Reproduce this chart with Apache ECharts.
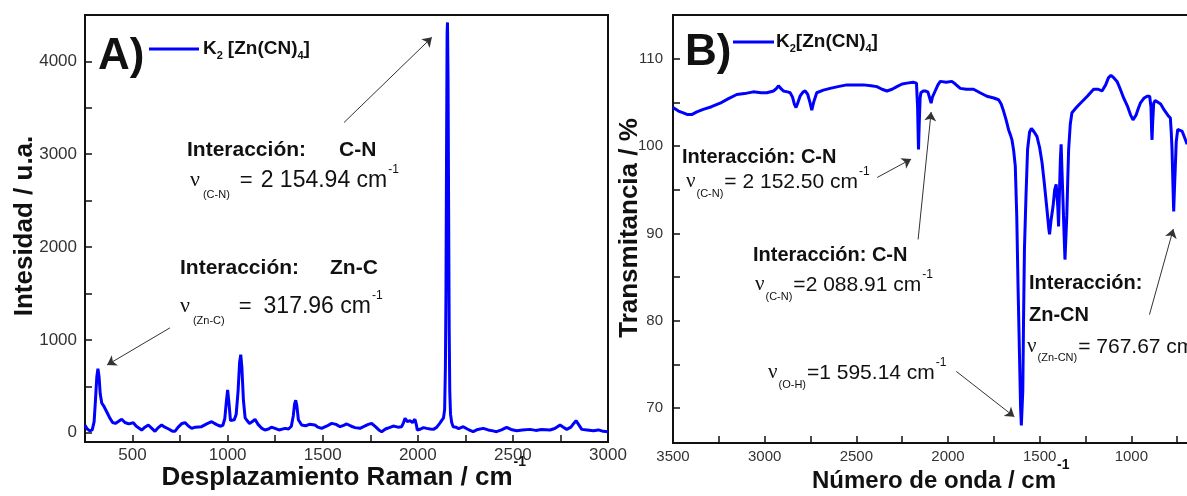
<!DOCTYPE html>
<html>
<head>
<meta charset="utf-8">
<script src="https://cdn.jsdelivr.net/npm/echarts@6/dist/echarts.min.js"></script>
<style>
html,body{margin:0;padding:0;background:#fff;}
#c{width:1187px;height:496px;}
</style>
</head>
<body>
<div id="c"></div>
<script>
// ---------- Raman spectrum (panel A) ----------
const ramanX = [250,262,275,288,298,305,312,318,324,330,338,348,358,368,380,395,410,425,443,460,480,504,520,548,565,583,600,618,635,653,670,690,710,723,740,760,776,795,811,830,863,890,916,940,960,975,985,993,1000,1007,1015,1025,1035,1045,1055,1063,1069,1075,1083,1092,1100,1115,1130,1144,1160,1178,1196,1215,1230,1249,1270,1302,1320,1335,1345,1352,1358,1364,1372,1389,1410,1430,1459,1475,1494,1520,1547,1570,1591,1610,1626,1650,1670,1696,1720,1740,1757,1780,1795,1810,1830,1850,1871,1895,1915,1925,1933,1945,1959,1972,1985,1993,1997,2015,2030,2047,2065,2082,2100,2115,2125,2135,2141,2145,2148,2151,2154,2156,2159,2162,2165,2168,2172,2178,2186,2200,2215,2239,2260,2275,2291,2315,2344,2370,2395,2414,2440,2467,2490,2520,2550,2590,2620,2650,2695,2720,2748,2765,2783,2805,2820,2832,2845,2862,2890,2923,2950,2975,3000];
const ramanY = [80,40,20,30,120,350,600,690,600,420,320,290,270,210,160,110,100,120,145,110,95,108,70,29,60,83,50,15,55,83,60,40,15,15,60,100,108,70,47,60,65,95,119,90,70,80,150,330,460,320,130,110,140,200,450,760,840,700,350,160,137,100,120,145,90,50,29,40,60,47,30,47,40,70,180,310,350,290,140,83,75,90,83,60,47,70,101,90,65,80,94,70,55,47,70,90,101,60,30,11,40,55,72,60,65,110,155,120,130,110,145,80,29,40,55,47,40,36,60,100,130,160,250,700,1500,3000,4300,4420,3800,2400,1100,450,200,110,65,60,45,65,40,25,11,35,47,30,20,11,30,58,35,22,30,36,25,35,29,45,83,60,36,60,100,130,90,36,30,22,30,15,11];
const ramanXLabels = [500,1000,1500,2000,2500,3000];
const ramanXTicks = [250,500,750,1000,1250,1500,1750,2000,2250,2500,2750,3000];
const ramanYLabels = [0,1000,2000,3000,4000];
const ramanYTicks = [0,500,1000,1500,2000,2500,3000,3500,4000];

// ---------- IR spectrum (panel B) ----------
const irX = [3500,3470,3444,3420,3398,3370,3335,3290,3243,3200,3152,3110,3062,3020,2988,2952,2935,2925,2912,2898,2875,2861,2848,2838,2829,2820,2807,2790,2779,2765,2752,2743,2733,2716,2680,2643,2600,2552,2500,2461,2420,2388,2360,2333,2305,2279,2250,2224,2190,2172,2166,2161,2157,2152,2148,2135,2124,2110,2100,2092,2085,2070,2055,2042,2010,1979,1960,1933,1900,1861,1825,1788,1750,1724,1710,1697,1683,1670,1660,1651,1642,1633,1625,1618,1610,1604,1600,1596,1592,1588,1583,1575,1566,1555,1545,1530,1515,1500,1487,1475,1460,1450,1446,1438,1427,1418,1410,1405,1401,1397,1393,1387,1383,1378,1373,1367,1362,1358,1352,1347,1342,1333,1324,1300,1278,1240,1206,1180,1160,1140,1125,1111,1095,1078,1060,1042,1020,1005,991,975,962,951,930,914,900,893,889,887,884,878,870,860,840,820,800,787,782,778,773,769,765,760,755,747,735,723,710,696];
const irY = [104.4,104.0,103.8,103.6,103.6,103.9,104.2,104.5,104.9,105.4,105.9,106.0,106.2,106.1,106.1,106.3,106.6,106.9,106.6,106.3,106.2,106.1,105.6,104.8,104.4,104.9,105.7,106.2,106.3,105.9,104.9,104.1,105.0,106.1,106.4,106.6,106.8,107.0,107.0,107.0,106.9,106.8,106.5,106.3,106.5,106.8,107.1,107.2,107.3,107.2,104.5,99.6,102.5,105.5,106.1,106.3,106.3,106.2,105.5,104.9,105.6,106.3,107.0,107.4,107.3,107.4,107.1,106.6,106.5,106.5,106.1,105.7,105.5,105.3,104.8,104.0,103.0,101.9,101.3,100.7,99.5,97.7,92,84,76,70,68.0,68.2,72,80,88.2,94,99.6,101.6,102.0,101.6,101.1,99.8,98.1,95.8,92.7,90.5,89.9,91.5,93.1,95.0,95.6,95.8,93,90.8,94,98.5,100.2,97,93.9,90,87,87.2,92,96,99.6,102.5,103.8,104.4,104.9,105.7,106.5,106.5,106.3,107.0,107.8,108.1,107.8,107.4,106.5,105.5,104.5,103.6,103.0,103.5,104.3,104.9,105.5,105.7,105.7,104.5,101.5,100.7,102.5,104.9,105.2,105.1,104.8,104.1,103.5,103.2,101.5,99.6,95.5,92.5,95,97.7,100.5,101.9,101.8,101.7,101.0,100.2];
const irXLabels = [3500,3000,2500,2000,1500,1000,500];
const irXTicks = [3500,3250,3000,2750,2500,2250,2000,1750,1500,1250,1000,750,500];
const irYLabels = [70,80,90,100,110];
const irYTicks = [70,75,80,85,90,95,100,105,110];

// annotation arrows (data coordinates: [from, to])
const ramanArrows = [[[1612,3342],[2074,4259]], [[697,1130],[366,730]]];
const irArrows = [[[2386,96.4],[2201,98.5]], [[2163,89.3],[2092,103.9]], [[1955,74.2],[1638,69.0]], [[901,80.7],[771,90.5]]];

const SANS = '"Liberation Sans", Arial, sans-serif';
const SERIF = '"Liberation Serif", "DejaVu Serif", serif';
const BLUE = '#0000ff';

const ctx = document.createElement('canvas').getContext('2d');
function tw(t, size, bold, fam) { ctx.font = (bold ? 'bold' : 'normal') + ' ' + size + 'px ' + fam; return ctx.measureText(t).width; }
function T(t, x, y, size, o) {
  o = o || {};
  return {type:'text', x:x, y:y, rotation:o.rot || 0, silent:true, z:100,
    style:{text:t, fontSize:size, fontWeight:o.bold ? 'bold' : 'normal', fontFamily:o.fam || SANS,
      fill:o.fill || '#111', align:o.align || 'left', verticalAlign:'middle'}};
}
// flowing text run: parts = [text, size, dy, gapBefore, opts]
function run(out, x, y, parts) {
  let cx = x;
  parts.forEach(p => {
    const o = p[4] || {};
    cx += p[3] || 0;
    out.push(T(p[0], cx, y + (p[2] || 0), p[1], o));
    cx += tw(p[0], p[1], o.bold, o.fam || SANS);
  });
  return cx;
}

const g = [];
// panel labels and legends
g.push(T('A)', 98, 57, 44, {bold:true}));
g.push({type:'line', silent:true, shape:{x1:149, y1:49, x2:199, y2:49}, style:{stroke:BLUE, lineWidth:3}});
run(g, 203, 49, [['K',19,0,0,{bold:true}],['2',11,7,0,{bold:true}],['[Zn(CN)',19,0,5,{bold:true}],['4',11,7,0,{bold:true}],[']',19,0,0,{bold:true}]]);

g.push(T('B)', 685, 53, 44, {bold:true}));
g.push({type:'line', silent:true, shape:{x1:733, y1:42, x2:774, y2:42}, style:{stroke:BLUE, lineWidth:3}});
run(g, 776, 42, [['K',19,0,0,{bold:true}],['2',11,7,0,{bold:true}],['[Zn(CN)',19,0,0,{bold:true}],['4',11,7,0,{bold:true}],[']',19,0,0,{bold:true}]]);

// panel A annotations
g.push(T('Interacción:', 187, 150, 21, {bold:true}));
g.push(T('C-N', 339, 150, 21, {bold:true}));
run(g, 190, 181, [['ν',22,-1,0,{fam:SERIF}],['(C-N)',11,14,3],['=',22,0,10],['2 154.94 cm',23,0,8],['-1',12,-11,1]]);

g.push(T('Interacción:', 180, 268, 21, {bold:true}));
g.push(T('Zn-C', 330, 268, 21, {bold:true}));
run(g, 180, 307, [['ν',22,-1,0,{fam:SERIF}],['(Zn-C)',11,14,3],['=',22,0,14],['317.96 cm',23,0,12],['-1',12,-11,1]]);

// panel B annotations
g.push(T('Interacción: C-N', 682, 157, 20, {bold:true}));
run(g, 686, 182, [['ν',21,-1,0,{fam:SERIF}],['(C-N)',11,12,1],['= 2 152.50 cm',21,0,1],['-1',12,-10,1]]);

g.push(T('Interacción: C-N', 753, 255, 20, {bold:true}));
run(g, 755, 285, [['ν',21,-1,0,{fam:SERIF}],['(C-N)',11,12,1],['=2 088.91 cm',21,0,1],['-1',12,-10,1]]);

g.push(T('Interacción:', 1029, 283, 20, {bold:true}));
g.push(T('Zn-CN', 1029, 315, 20, {bold:true}));
run(g, 1027, 347, [['ν',21,-1,0,{fam:SERIF}],['(Zn-CN)',11,11,1],['= 767.67 cm',21,0,1],['-1',12,-10,1]]);

run(g, 768, 373, [['ν',21,-1,0,{fam:SERIF}],['(O-H)',11,12,1],['=1 595.14 cm',21,0,1],['-1',12,-10,1]]);

// axis titles
(function(){
  const t1 = 'Desplazamiento Raman / cm';
  const w1 = tw(t1, 26, true, SANS);
  const x1 = 344 - (w1 + 14) / 2;
  run(g, x1, 478, [[t1,26,0,0,{bold:true}],['-1',14,-16,1,{bold:true}]]);
  const t2 = 'Número de onda / cm';
  const w2 = tw(t2, 24, true, SANS);
  const x2 = 941 - (w2 + 14) / 2;
  run(g, x2, 481, [[t2,24,0,0,{bold:true}],['-1',14,-16,1,{bold:true}]]);
})();
g.push(T('Intesidad / u.a.', 25, 226, 26, {bold:true, align:'center', rot:Math.PI/2}));
g.push(T('Transmitancia / %', 630, 228, 26, {bold:true, align:'center', rot:Math.PI/2}));

function zip(a, b) { return a.map((v, i) => [v, b[i]]); }
function arrows(list) {
  return {silent:true, symbol:['none','arrow'], symbolSize:9, animation:false, precision:2,
    lineStyle:{color:'#333', width:1, type:'solid'}, itemStyle:{color:'#333'},
    label:{show:false}, emphasis:{disabled:true},
    data:list.map(a => [{coord:a[0], symbol:'none'}, {coord:a[1], symbol:'arrow', symbolSize:9}])};
}
function axisCommon(labels, ticks, fs) {
  return {
    axisLine:{show:true, onZero:false, lineStyle:{color:'#111', width:2}},
    axisTick:{show:true, inside:true, length:7, customValues:ticks, lineStyle:{color:'#111', width:1.5}},
    axisLabel:{customValues:labels, color:'#333', fontSize:fs, fontFamily:SANS, formatter:v => String(v)},
    splitLine:{show:false}, minorTick:{show:false}
  };
}

const option = {
  animation:false,
  backgroundColor:'#fff',
  grid:[
    {left:85, top:15, width:523, height:427, show:true, borderColor:'#111', borderWidth:2, outerBoundsMode:'none', containLabel:false},
    {left:673, top:15, width:550, height:428, show:true, borderColor:'#111', borderWidth:2, outerBoundsMode:'none', containLabel:false}
  ],
  xAxis:[
    Object.assign({type:'value', gridIndex:0, min:250, max:3000}, axisCommon(ramanXLabels, ramanXTicks, 17)),
    Object.assign({type:'value', gridIndex:1, min:500, max:3500, inverse:true}, axisCommon(irXLabels, irXTicks, 15))
  ],
  yAxis:[
    Object.assign({type:'value', gridIndex:0, min:-100, max:4500}, axisCommon(ramanYLabels, ramanYTicks, 17)),
    Object.assign({type:'value', gridIndex:1, min:66, max:115}, axisCommon(irYLabels, irYTicks, 15))
  ],
  series:[
    {type:'line', name:'K2[Zn(CN)4] Raman', xAxisIndex:0, yAxisIndex:0, data:zip(ramanX, ramanY),
      showSymbol:false, symbol:'none', lineStyle:{color:BLUE, width:3}, itemStyle:{color:BLUE}, markLine:arrows(ramanArrows)},
    {type:'line', name:'K2[Zn(CN)4] IR', xAxisIndex:1, yAxisIndex:1, data:zip(irX, irY),
      showSymbol:false, symbol:'none', lineStyle:{color:BLUE, width:3}, itemStyle:{color:BLUE}, markLine:arrows(irArrows)}
  ],
  graphic:g
};
option.xAxis[0].axisLabel.margin = 5;
option.xAxis[1].axisLabel.margin = 6;
option.yAxis[0].axisLabel.margin = 8;
option.yAxis[1].axisLabel.margin = 10;

const chart = echarts.init(document.getElementById('c'), null, {renderer:'canvas'});
chart.setOption(option);
</script>
</body>
</html>
